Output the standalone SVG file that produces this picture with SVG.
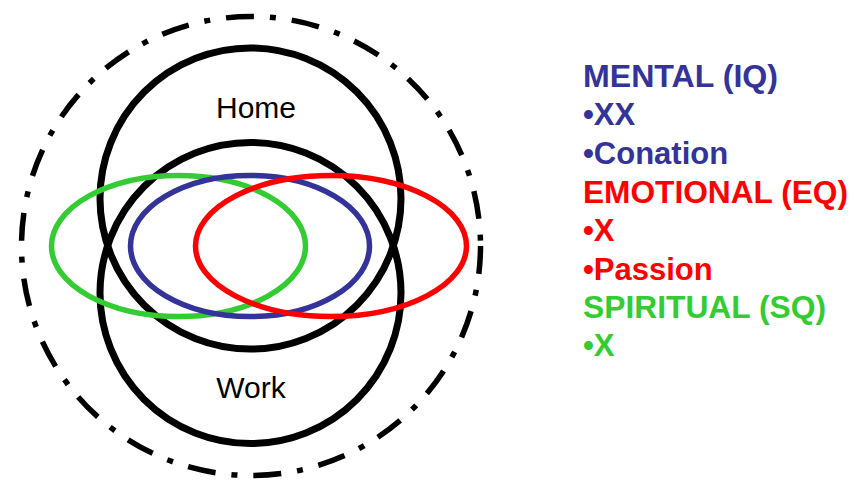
<svg xmlns="http://www.w3.org/2000/svg" width="854" height="481" viewBox="0 0 854 481">
<style>
.ring{fill:none;stroke:#000;stroke-width:7}
.outer{fill:none;stroke:#000;stroke-width:5.5;stroke-dasharray:28 16 6 16}
.ell{fill:none;stroke-width:5.5}
.lbl{font-family:"Liberation Sans",Arial,sans-serif;font-size:30px;fill:#000}
.leg{font-family:"Liberation Sans",Arial,sans-serif;font-size:31px;font-weight:bold}
.blue{fill:#333399}.red{fill:#FF0000}.green{fill:#33CC33}
</style>
<rect width="854" height="481" fill="#fff"/>
<g id="outer"><circle class="outer" cx="251" cy="246" r="229.5"/></g>
<g id="home"><circle class="ring" cx="250.5" cy="198.5" r="150.5"/><text class="lbl" x="256" y="117.5" text-anchor="middle">Home</text></g>
<g id="work"><circle class="ring" cx="250.5" cy="293" r="150.5"/><text class="lbl" x="251" y="398" text-anchor="middle">Work</text></g>
<g id="spiritual"><ellipse class="ell" stroke="#33CC33" cx="178.5" cy="246" rx="127" ry="70.5"/></g>
<g id="mental"><ellipse class="ell" stroke="#333399" cx="250" cy="246" rx="119.5" ry="70.5"/></g>
<g id="emotional"><ellipse class="ell" stroke="#FF0000" cx="331" cy="246" rx="135.5" ry="70.5"/></g>
<g id="legend">
<text class="leg blue" x="583" y="86.5" textLength="195" lengthAdjust="spacingAndGlyphs">MENTAL (IQ)</text>
<text class="leg blue" x="583" y="125">•XX</text>
<text class="leg blue" x="583" y="163.5">•Conation</text>
<text class="leg red" x="583" y="202.5" textLength="265" lengthAdjust="spacingAndGlyphs">EMOTIONAL (EQ)</text>
<text class="leg red" x="583" y="241">•X</text>
<text class="leg red" x="583" y="279.5">•Passion</text>
<text class="leg green" x="583" y="318" textLength="243" lengthAdjust="spacingAndGlyphs">SPIRITUAL (SQ)</text>
<text class="leg green" x="583" y="356">•X</text>
</g>
</svg>
